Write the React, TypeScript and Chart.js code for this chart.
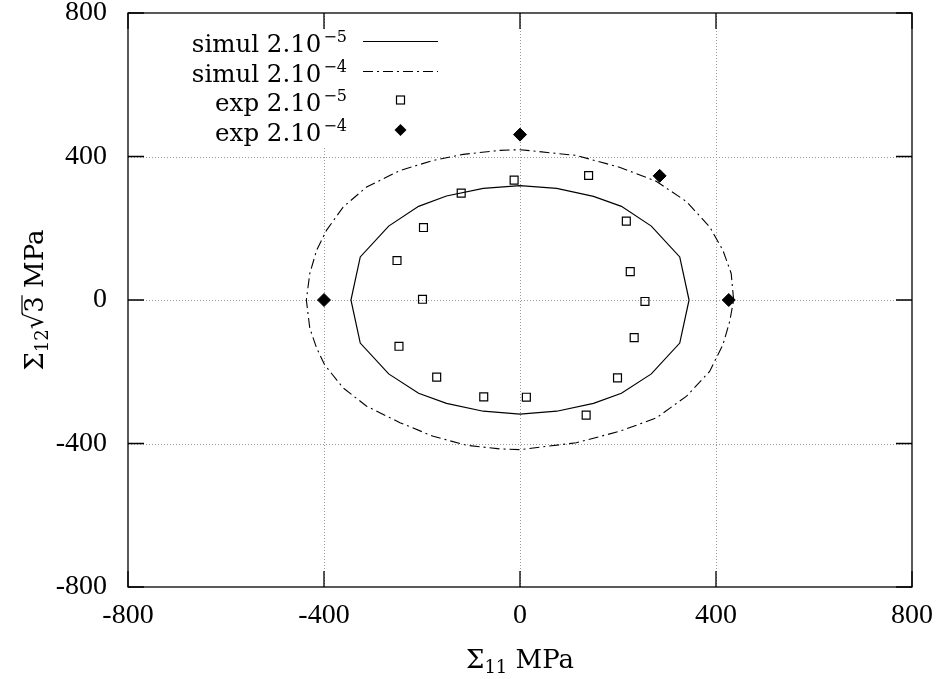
import React, { useEffect, useRef } from "react";
import { Chart, registerables } from "chart.js";

Chart.register(...registerables);

// ---- data ----
const simul5X = [345, 326, 268, 207, 150, 75, 0, -75, -150, -207, -268, -326, -345, -326, -268, -207, -150, -75, 0, 75, 150, 207, 268, 326, 345];
const simul5Y = [0, 120, 206, 261, 289, 311, 319, 311, 290, 261, 206, 120, 0, -120, -206, -260, -288, -310, -318, -310, -288, -260, -206, -120, 0];

const simul4X = [436, 431, 414, 387, 340, 278, 203, 115, 0, -41, -116, -177, -245, -313, -361, -395, -415, -429, -436, -429, -415, -399, -361, -313, -245, -177, -109, -41, 0, 115, 203, 278, 340, 387, 414, 428, 436];
const simul4Y = [0, 74, 139, 204, 274, 331, 370, 403, 419, 417, 406, 389, 361, 315, 259, 194, 139, 74, 0, -79, -134, -180, -245, -296, -342, -380, -405, -415, -417, -398, -366, -329, -268, -199, -125, -60, 0];

const exp5X = [-12, 140, -120, -197, 217, -251, 225, -199, 255, -247, 233, -170, 199, -74, 13, 135];
const exp5Y = [334, 347, 298, 202, 220, 110, 79, 2, -4, -129, -105, -215, -217, -270, -271, -321];

const exp4X = [0, 285, -400, 426];
const exp4Y = [461, 346, 0, 0];

const tickValues = [-800, -400, 0, 400, 800];
const gridValues = [-400, 0, 400];

const legendLabels = ["simul 2.10", "simul 2.10", "exp 2.10", "exp 2.10"];
const legendSups = ["\u22125", "\u22124", "\u22125", "\u22124"];
const legendKinds = ["solid", "dashdot", "square", "diamond"];

const xTitleMain = "\u03A3";
const xTitleSub = "11";
const xTitleRest = " MPa";
const yTitleMain = "\u03A3";
const yTitleSub = "12";
const yTitleRoot = "\u221A";
const yTitleRootArg = "3";
const yTitleRest = " MPa";

const FONT = '"DejaVu Serif", "Liberation Serif", serif';
const TICK_FONT = '"Liberation Serif", "DejaVu Serif", serif';

function pts(xs: number[], ys: number[]) {
  return xs.map((x, i) => ({ x, y: ys[i] }));
}

const DASHDOT = [10, 4, 2, 4];

const decorPlugin = {
  id: "decor",
  beforeDatasetsDraw(chart: any) {
    const { ctx, chartArea: a, scales } = chart;
    const xs = scales.x;
    const ys = scales.y;
    ctx.save();
    ctx.strokeStyle = "#999";
    ctx.lineWidth = 1;
    ctx.setLineDash([1, 2]);
    for (const v of gridValues) {
      const px = Math.round(xs.getPixelForValue(v)) + 0.5;
      ctx.beginPath();
      ctx.moveTo(px, a.top);
      ctx.lineTo(px, a.bottom);
      ctx.stroke();
      const py = Math.round(ys.getPixelForValue(v)) + 0.5;
      ctx.beginPath();
      ctx.moveTo(a.left, py);
      ctx.lineTo(a.right, py);
      ctx.stroke();
    }
    ctx.setLineDash([]);
    // opaque key box
    ctx.fillStyle = "#fff";
    ctx.fillRect(180, 29, 270, 117);
    ctx.restore();
  },
  afterDatasetsDraw(chart: any) {
    const { ctx, chartArea: a, scales } = chart;
    const xs = scales.x;
    const ys = scales.y;
    ctx.save();
    ctx.strokeStyle = "#000";
    ctx.lineWidth = 1.3;
    const TL = 16;
    for (const v of tickValues) {
      const px = xs.getPixelForValue(v);
      ctx.beginPath();
      ctx.moveTo(px, a.bottom);
      ctx.lineTo(px, a.bottom - TL);
      ctx.moveTo(px, a.top);
      ctx.lineTo(px, a.top + TL);
      ctx.stroke();
      const py = ys.getPixelForValue(v);
      ctx.beginPath();
      ctx.moveTo(a.left, py);
      ctx.lineTo(a.left + TL, py);
      ctx.moveTo(a.right, py);
      ctx.lineTo(a.right - TL, py);
      ctx.stroke();
    }
    ctx.strokeRect(a.left, a.top, a.right - a.left, a.bottom - a.top);

    // legend
    const mainFont = "24.5px " + FONT;
    const supFont = "16px " + FONT;
    const rowYs = [41, 71, 100, 130];
    const xEnd = 347;
    for (let i = 0; i < legendLabels.length; i++) {
      const y = rowYs[i];
      ctx.fillStyle = "#000";
      ctx.font = supFont;
      const supW = ctx.measureText(legendSups[i]).width;
      const supX = xEnd - supW;
      ctx.textAlign = "left";
      ctx.textBaseline = "alphabetic";
      ctx.fillText(legendSups[i], supX, y + 1);
      ctx.font = mainFont;
      ctx.textAlign = "right";
      ctx.fillText(legendLabels[i], supX - 2, y + 11);
      const kind = legendKinds[i];
      ctx.lineWidth = 1.2;
      if (kind === "solid" || kind === "dashdot") {
        ctx.setLineDash(kind === "dashdot" ? DASHDOT : []);
        ctx.beginPath();
        ctx.moveTo(363, y + 0.5);
        ctx.lineTo(438, y + 0.5);
        ctx.stroke();
        ctx.setLineDash([]);
      } else if (kind === "square") {
        ctx.strokeRect(396.5, y - 4, 8, 8);
      } else {
        ctx.beginPath();
        ctx.moveTo(400.5, y - 6);
        ctx.lineTo(406.5, y);
        ctx.lineTo(400.5, y + 6);
        ctx.lineTo(394.5, y);
        ctx.closePath();
        ctx.fill();
      }
    }

    const titleFont = "26px " + FONT;
    const subFont = "18px " + FONT;

    // x title
    ctx.textAlign = "left";
    ctx.textBaseline = "alphabetic";
    ctx.font = titleFont;
    const wS = ctx.measureText(xTitleMain).width;
    const wR = ctx.measureText(xTitleRest).width;
    ctx.font = subFont;
    const wSub = ctx.measureText(xTitleSub).width;
    const total = wS + wSub + wR;
    const x0 = (a.left + a.right) / 2 - total / 2;
    const by = 668;
    ctx.font = titleFont;
    ctx.fillText(xTitleMain, x0, by);
    ctx.font = subFont;
    ctx.fillText(xTitleSub, x0 + wS, by + 5);
    ctx.font = titleFont;
    ctx.fillText(xTitleRest, x0 + wS + wSub, by);

    // y title (rotated)
    ctx.save();
    ctx.translate(43, (a.top + a.bottom) / 2);
    ctx.rotate(-Math.PI / 2);
    ctx.font = titleFont;
    const yS = ctx.measureText(yTitleMain).width;
    const yRoot = ctx.measureText(yTitleRoot).width;
    const yArg = ctx.measureText(yTitleRootArg).width;
    const yRest = ctx.measureText(yTitleRest).width;
    ctx.font = subFont;
    const ySub = ctx.measureText(yTitleSub).width;
    const yTot = yS + ySub + yRoot + yArg + yRest;
    let cx = -yTot / 2;
    ctx.font = titleFont;
    ctx.fillText(yTitleMain, cx, 0);
    cx += yS;
    ctx.font = subFont;
    ctx.fillText(yTitleSub, cx, 5);
    cx += ySub;
    ctx.font = titleFont;
    ctx.fillText(yTitleRoot, cx, 0);
    cx += yRoot;
    ctx.fillText(yTitleRootArg, cx, 0);
    ctx.lineWidth = 1.2;
    ctx.beginPath();
    ctx.moveTo(cx - 1, -21);
    ctx.lineTo(cx + yArg + 1, -21);
    ctx.stroke();
    cx += yArg;
    ctx.fillText(yTitleRest, cx, 0);
    ctx.restore();

    ctx.restore();
  },
};

export default function App() {
  const ref = useRef<HTMLCanvasElement | null>(null);
  useEffect(() => {
    if (!ref.current) return;
    const tickFont = { family: TICK_FONT, size: 28, lineHeight: 1.0 };
    const chart = new Chart(ref.current, {
      type: "scatter",
      data: {
        datasets: [
          {
            label: "simul 2.10-5",
            data: pts(simul5X, simul5Y),
            showLine: true,
            borderColor: "#000",
            borderWidth: 1.2,
            pointRadius: 0,
            fill: false,
          },
          {
            label: "simul 2.10-4",
            data: pts(simul4X, simul4Y),
            showLine: true,
            borderColor: "#000",
            borderWidth: 1.1,
            borderDash: DASHDOT,
            pointRadius: 0,
            fill: false,
          },
          {
            label: "exp 2.10-5",
            data: pts(exp5X, exp5Y),
            pointStyle: "rect",
            pointRadius: 5.6,
            borderColor: "#000",
            borderWidth: 1.2,
            backgroundColor: "rgba(0,0,0,0)",
          },
          {
            label: "exp 2.10-4",
            data: pts(exp4X, exp4Y),
            pointStyle: "rectRot",
            pointRadius: 6.5,
            borderColor: "#000",
            borderWidth: 1,
            backgroundColor: "#000",
          },
        ],
      },
      options: {
        animation: false,
        responsive: false,
        maintainAspectRatio: false,
        layout: { padding: { top: 13, right: 27, left: 0, bottom: 0 } },
        plugins: { legend: { display: false }, tooltip: { enabled: false } },
        scales: {
          x: {
            type: "linear",
            min: -800,
            max: 800,
            grid: { display: false },
            border: { display: false },
            ticks: {
              stepSize: 400,
              color: "#000",
              font: tickFont,
              padding: 7,
              maxRotation: 0,
              autoSkip: false,
              callback: (v: any) => String(v),
            },
            afterFit(s: any) {
              s.height = 92;
              s.paddingLeft = 0;
              s.paddingRight = 0;
            },
          },
          y: {
            type: "linear",
            min: -800,
            max: 800,
            grid: { display: false },
            border: { display: false },
            ticks: {
              stepSize: 400,
              color: "#000",
              font: tickFont,
              padding: 13,
              autoSkip: false,
              callback: (v: any) => String(v),
            },
            afterFit(s: any) {
              s.width = 128;
              s.paddingTop = 0;
              s.paddingBottom = 0;
            },
          },
        },
      },
      plugins: [decorPlugin],
    });
    return () => chart.destroy();
  }, []);
  return (
    <div style={{ position: "absolute", left: 0, top: 0, width: 939, height: 679, background: "#fff" }}>
      <canvas ref={ref} width={939} height={679} style={{ display: "block", width: 939, height: 679 }} />
    </div>
  );
}
